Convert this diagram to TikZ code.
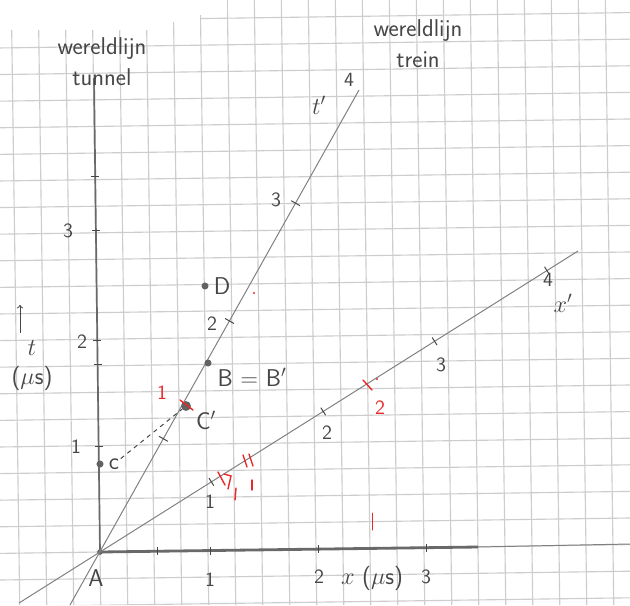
\documentclass[tikz,border=0pt]{standalone}
\usepackage{tikz}
\usetikzlibrary{calc}
\definecolor{pencil}{RGB}{70,70,70}
\definecolor{gridGray}{RGB}{205,205,205}
\definecolor{axisGray}{RGB}{105,105,105}
\definecolor{markRed}{RGB}{235,40,40}

\begin{document}
\begin{tikzpicture}[
  x=0.025cm, y=-0.025cm,
  font=\sffamily,
  gridline/.style={draw=gridGray, line width=0.8pt},
  axis/.style={draw=axisGray, line width=1.2pt},
  xaxis/.style={draw=axisGray, line width=2pt},
  primeaxis/.style={draw=axisGray!85, line width=0.7pt},
  tickmark/.style={draw=pencil, line width=0.7pt},
  redtick/.style={draw=markRed, line width=1pt, line cap=round},
  handtext/.style={text=pencil, font=\sffamily\LARGE, inner sep=1pt},
  numtext/.style={text=pencil, font=\sffamily\Large, inner sep=1pt},
  redtext/.style={text=markRed, font=\sffamily\Large, inner sep=1pt},
  event/.style={circle, fill=pencil!85, inner sep=0pt, minimum size=5pt}
]
\fill[white] (0,0) rectangle (630,605);
\useasboundingbox (0,0) rectangle (630,605);

% ------------------------------------------------------------------
% Squared paper
% ------------------------------------------------------------------
\coordinate (A0) at (100,552);
\begin{scope}
  \clip (0,30) -- (170,30) -- (170,22) -- (200,22) -- (200,15) -- (227,15) -- (227,0)
        -- (630,0) -- (630,605) -- (0,605) -- cycle;
  \begin{scope}[rotate around={0.8:(A0)}]
    \foreach \k in {-4,...,20} \draw[gridline] ({100+27*\k},-30) -- ({100+27*\k},640);
    \foreach \j in {-3,...,22} \draw[gridline] (-30,{552-26.6*\j}) -- (660,{552-26.6*\j});
  \end{scope}
\end{scope}

% ------------------------------------------------------------------
% Axes t, x and t', x'
% ------------------------------------------------------------------
\node[event, minimum size=4pt] (A) at (100,552) {};
\coordinate (tTop) at (94,78);
\coordinate (xMid) at (478,547);
\coordinate (xFar) at (630,544);
\coordinate (tpLow) at (70,605);
\coordinate (tpTop) at (359,90);
\coordinate (xpLow) at (19,603);
\coordinate (xpTop) at (578,251);

\draw[axis] (A.center) -- (tTop);
\draw[xaxis] (A.center) -- (xMid);
\draw[primeaxis] (xMid) -- (xFar);
\draw[primeaxis] (tpLow) -- (tpTop);
\draw[primeaxis] (xpLow) -- (xpTop);

% ticks
\foreach \y in {446,364,340,230,176}
  \draw[tickmark] ($(A.center)!{(552-\y)/474}!(tTop)$) ++(-4,0) -- ++(8,0);
\foreach \x in {157,210,318,426}
  \draw[tickmark] ($(A.center)!{(\x-100)/378}!(xMid)$) ++(0,-4) -- ++(0,8);
\foreach \f in {0.245,0.5,0.755}
  \draw[tickmark] ($(A.center)!\f!(tpTop)$) ++(-4.4,-2.5) -- ++(8.8,5);
\foreach \f in {0.233,0.467,0.70,0.935}
  \draw[tickmark] ($(A.center)!\f!(xpTop)$) ++(-2.4,-3.8) -- ++(4.8,7.6);

% axis numbers
\node[numtext] at (76,447) {1};
\node[numtext] at (82,342) {2};
\node[numtext] at (68,231) {3};
\node[numtext] at (210,580) {1};
\node[numtext] at (319,577) {2};
\node[numtext] at (426,577) {3};
\node[handtext] (xlabel) at (372,578) {$x$ ($\mu$s)};
\draw[pencil, line width=0.7pt, ->] (20,333) -- (20,305);
\node[handtext] (tlabel) at (32,348) {$t$};
\node[handtext] (tunit) at (32,378) {($\mu$s)};

\node[numtext] at (212,324) {2};
\node[numtext] at (276,200) {3};
\node[handtext] (tplabel) at (319,105) {$t'$};
\node[numtext] at (349,80) {4};

\node[numtext] at (210,502) {1};
\node[numtext] at (327,433) {2};
\node[numtext] at (441,365) {3};
\node[numtext] at (548,280) {4};
\node[handtext] (xplabel) at (563,303) {$x'$};

% ------------------------------------------------------------------
% World lines and events
% ------------------------------------------------------------------
\node[handtext, align=center] (tunnel) at (102,62) {wereldlijn\\tunnel};
\node[handtext, align=center] (trein) at (418,44) {wereldlijn\\trein};

\node[event] (C) at (100,464) {};
\node[event, minimum size=7pt] (Cp) at (186,406) {};
\node[event] (B) at (208,363) {};
\node[event] (D) at (205,286) {};

\node[handtext] (Alabel) at (96,578) {A};
\node[handtext] (Clabel) at (114,464) {c};
\node[handtext] (Cplabel) at (206,420) {C$'$};
\node[handtext] (Blabel) at (252,377) {B = B$'$};
\node[handtext] (Dlabel) at (222,286) {D};

\draw[pencil, dashed, line width=0.7pt] (Clabel) -- (Cp);

% red corrections
\node[redtext] at (162,393) {1};
\draw[redtick] (180,400) -- (193,410);
\draw[redtick] (218,472) -- (225,485);
\draw[redtick] (224,474) -- (231,476) -- (228,489);
\draw[redtick] (243,455) -- (247,467);
\draw[redtick] (249,454) -- (253,466);
\draw[redtick] (236,488) -- (235,500);
\draw[redtick] (252,480) -- (252,490);
\draw[redtick] (363,380) -- (372,390);
\fill[markRed] (377,379) circle (1.2);
\fill[markRed] (254,293) circle (1.2);
\node[redtext] at (380,408) {2};
\draw[redtick, line width=0.7pt] (372,513) -- (372,530);

\end{tikzpicture}
\end{document}
